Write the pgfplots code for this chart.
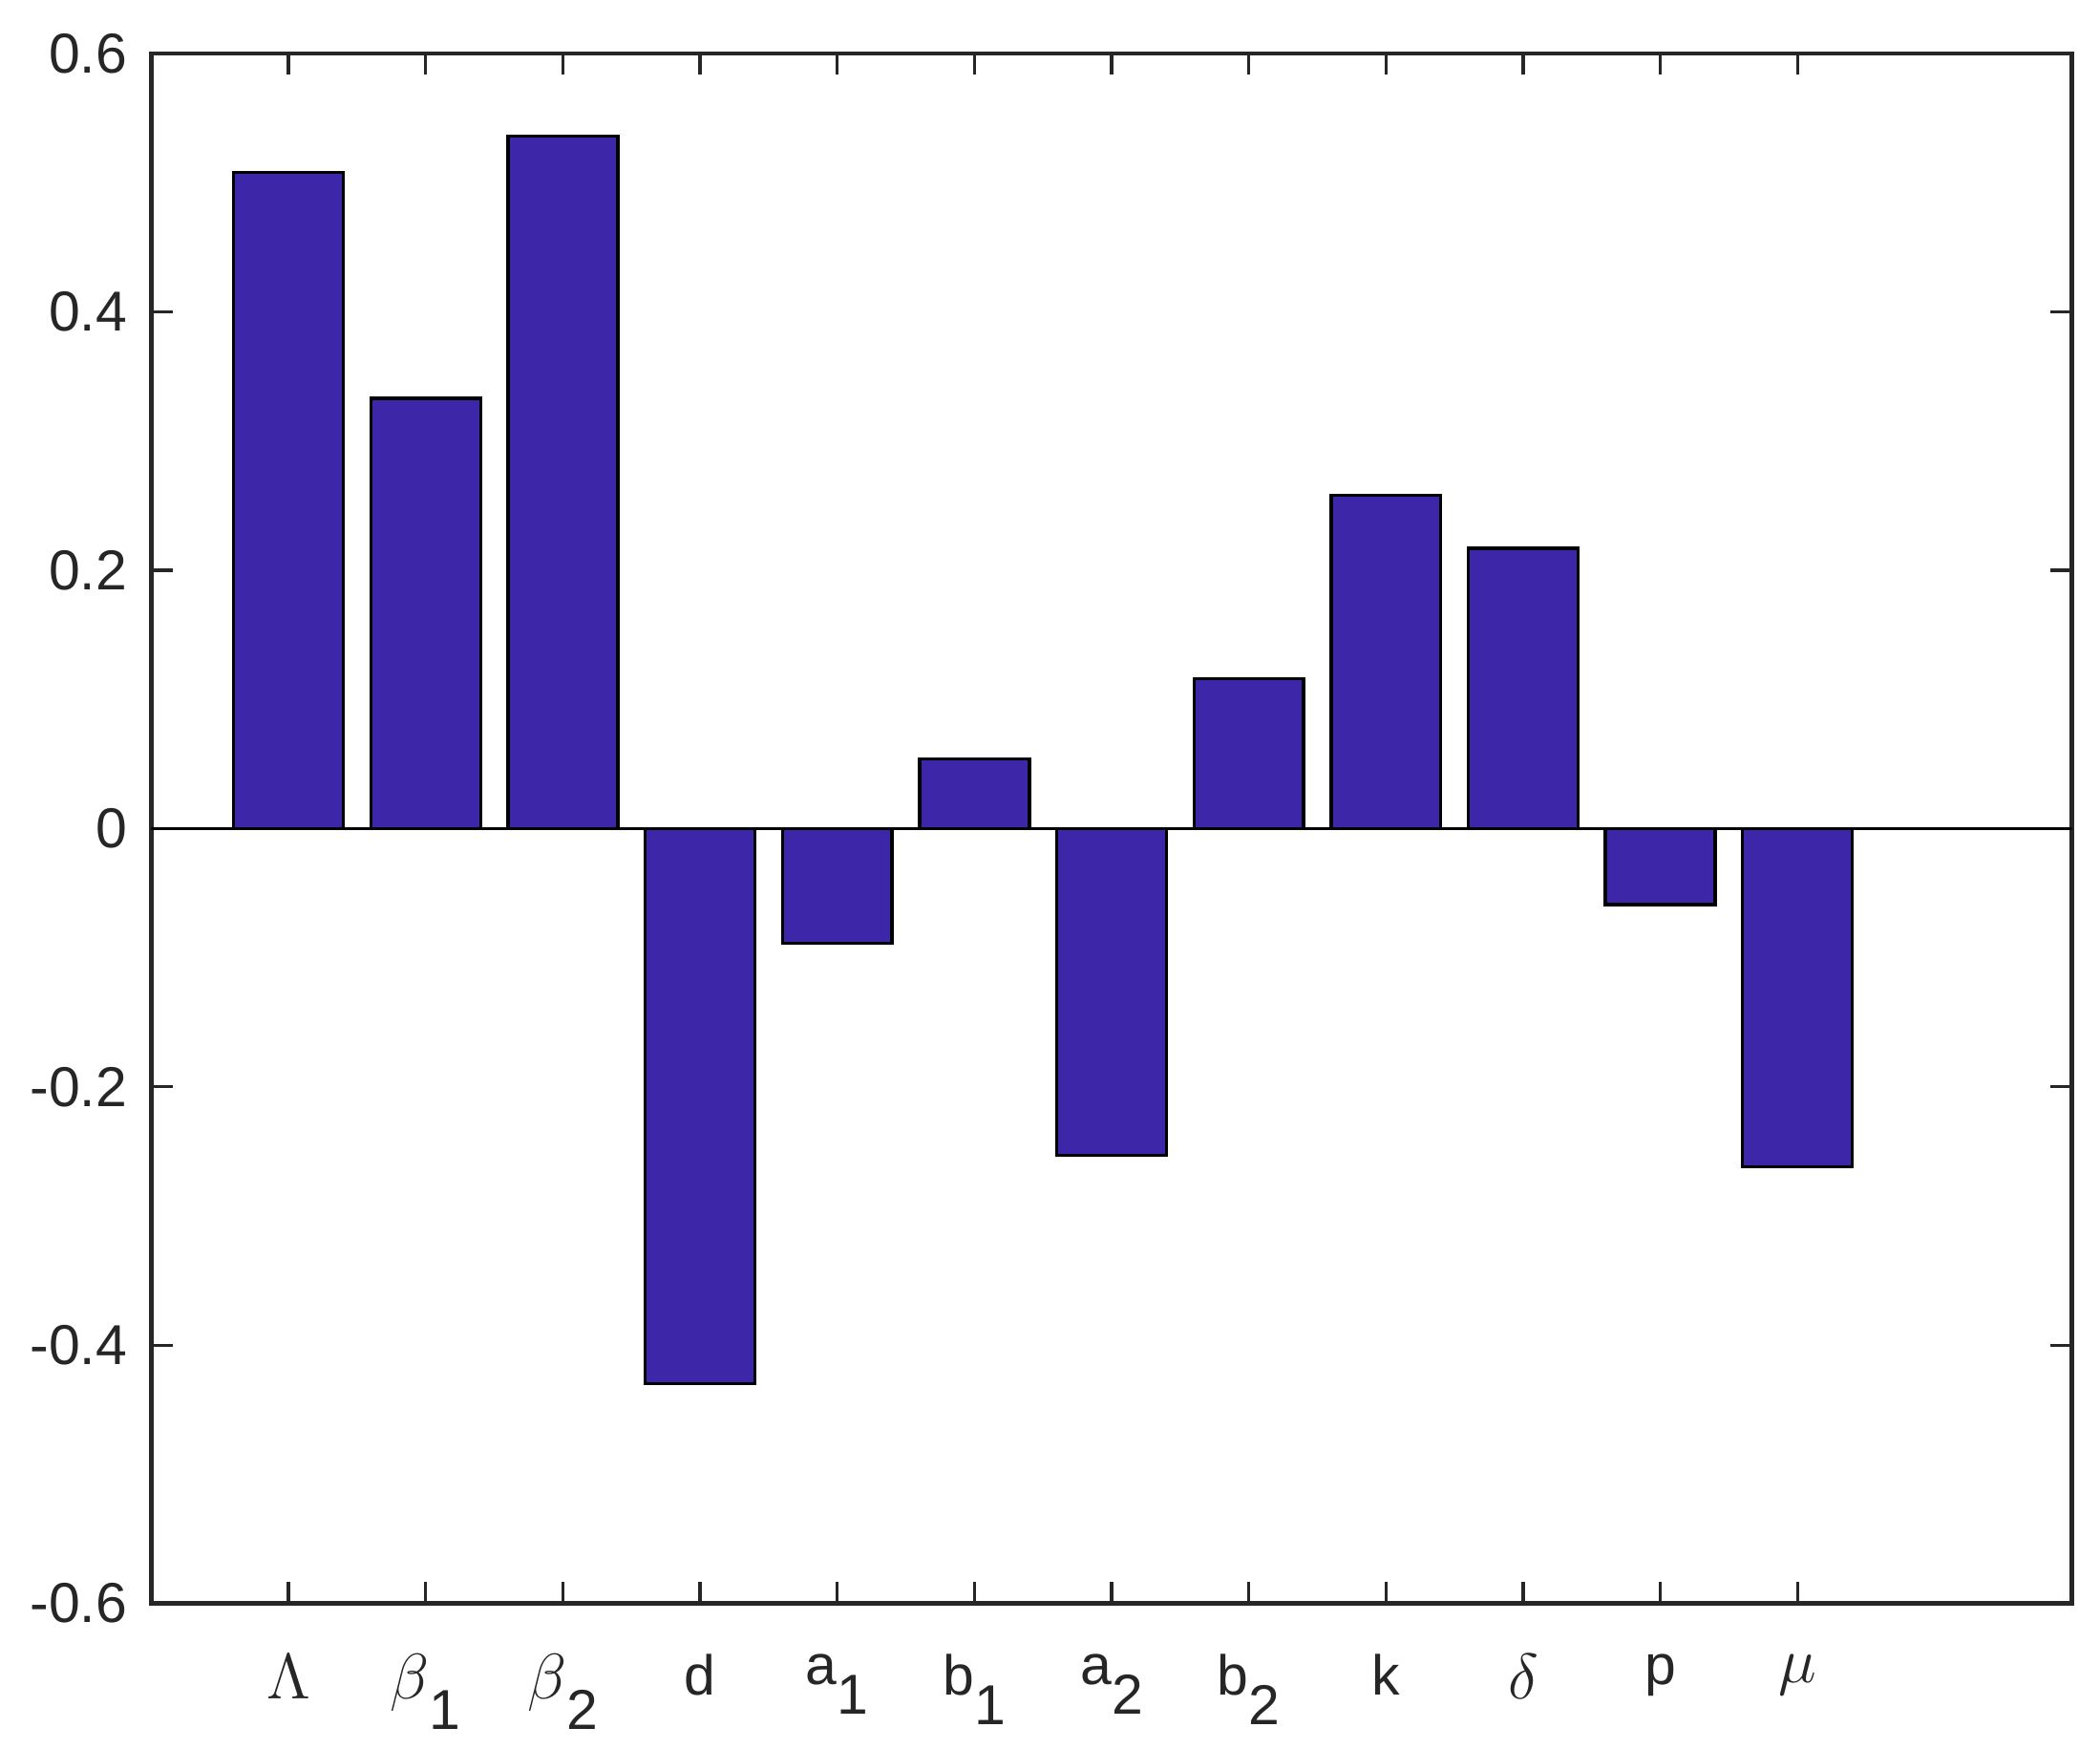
\documentclass[border=0pt]{standalone}
\usepackage{pgfplots}
\pgfplotsset{compat=1.18}
\usepackage{fontspec}
\setmainfont{Liberation Sans}
\definecolor{barcol}{RGB}{62,38,168}
\definecolor{axgray}{RGB}{38,38,38}
\newcommand{\sub}[1]{\raisebox{-1.0ex}{#1}}
\newcommand{\gr}[1]{{\fontsize{12}{14}\selectfont$#1$}}
\begin{document}
\begin{tikzpicture}
\begin{axis}[
  scale only axis,
  width=358.5pt, height=289.25pt,
  xmin=0, xmax=14, ymin=-0.6, ymax=0.6,
  axis line style={line width=0.8pt, axgray},
  every tick/.style={axgray, line width=0.6pt},
  tick align=inside,
  major tick length=4pt,
  xtick={1,...,12},
  xticklabels={\gr{\Lambda}, \gr{\beta}\sub{1}, \gr{\beta}\sub{2}, d, a\sub{1}, b\sub{1}, a\sub{2}, b\sub{2}, k, \gr{\delta}, p, \gr{\mu}},
  ytick={-0.6,-0.4,-0.2,0,0.2,0.4,0.6},
  yticklabels={-0.6,-0.4,-0.2,0,0.2,0.4,0.6},
  tick label style={font=\fontsize{10.5}{12}\selectfont, text=axgray},
  xticklabel style={yshift=-6pt, anchor=north},
  yticklabel style={xshift=-1pt},
]
\addplot[ybar, bar width=0.8, fill=barcol, draw=black, line width=0.6pt]
  coordinates {(1,0.508) (2,0.333) (3,0.536) (4,-0.430) (5,-0.089) (6,0.054)
               (7,-0.253) (8,0.116) (9,0.258) (10,0.217) (11,-0.059) (12,-0.262)};
\addplot[black, line width=0.6pt] coordinates {(0,0) (14,0)};
\end{axis}
\pgfresetboundingbox
\path ([shift={(-28.25pt,-27pt)}]current axis.south west) rectangle ([shift={(5.25pt,10pt)}]current axis.north east);
\end{tikzpicture}
\end{document}
